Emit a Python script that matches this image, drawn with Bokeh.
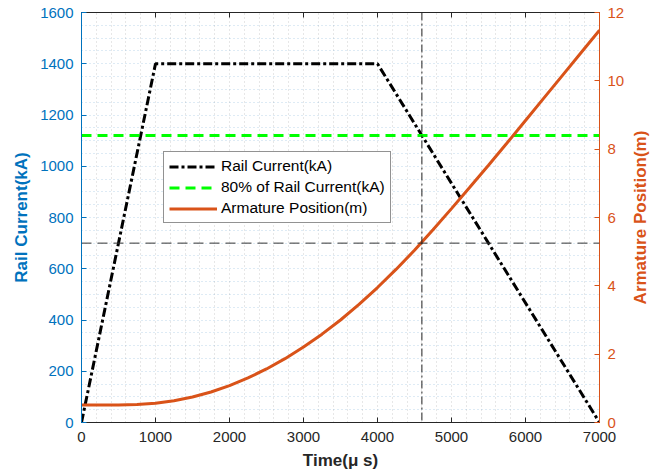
import math
from bokeh.plotting import figure
from bokeh.models import (Range1d, LinearAxis, FixedTicker, SingleIntervalTicker,
                          Legend, LegendItem, Span, CustomLabelingPolicy, Label)
from bokeh.embed import file_html
from bokeh.resources import INLINE

# ---- data ----
time_rail = [0, 1000, 4000, 7000]
rail_current = [0, 1400, 1400, 0]

green_time = [0, 7000]
green_level = [1120, 1120]

time_pos = [0, 250, 500, 750, 1000, 1250, 1500, 1750, 2000, 2250, 2500, 2750,
            3000, 3250, 3500, 3750, 4000, 4250, 4500, 4750, 5000, 5250, 5500,
            5750, 6000, 6250, 6500, 6750, 7000]
position = [0.51, 0.51, 0.515, 0.53, 0.565, 0.636, 0.746, 0.893, 1.08, 1.304,
            1.567, 1.868, 2.207, 2.585, 3.0, 3.455, 3.95, 4.48, 5.04, 5.64,
            6.26, 6.89, 7.53, 8.18, 8.84, 9.5, 10.16, 10.82, 11.48]

marker_time = 4600
marker_current = 700

x_ticks = [0, 1000, 2000, 3000, 4000, 5000, 6000, 7000]
y_ticks = [0, 200, 400, 600, 800, 1000, 1200, 1400, 1600]
pos_ticks = [0, 2, 4, 6, 8, 10, 12]

BLUE = "#0072BD"
ORANGE = "#D95319"
DARK = "#262626"
FONT = "Liberation Sans"

FW, FH = 518, 410

p = figure(frame_width=FW, frame_height=FH,
           x_range=Range1d(0, 7000), y_range=Range1d(0, 1600),
           output_backend="svg", toolbar_location=None,
           min_border_left=81, min_border_right=63,
           min_border_top=12, min_border_bottom=54,
           background_fill_color="white", border_fill_color="white")
p.extra_y_ranges = {"pos": Range1d(0, 12)}
p.outline_line_color = DARK
p.outline_line_width = 1

# grids (dotted, minor spacing)
p.xgrid.ticker = SingleIntervalTicker(interval=200)
p.ygrid.ticker = SingleIntervalTicker(interval=50)
p.xgrid.grid_line_color = "#8a8a8a"
p.xgrid.grid_line_alpha = 0.4
p.xgrid.grid_line_dash = "1 3"
p.ygrid.grid_line_color = "#5b9bd0"
p.ygrid.grid_line_alpha = 0.4
p.ygrid.grid_line_dash = "1 3"

# bottom axis
xa = p.xaxis[0]
xa.ticker = FixedTicker(ticks=x_ticks)
xa.axis_label = "Time(\u03bc s)"
xa.axis_label_text_font = FONT
xa.axis_label_text_font_style = "bold"
xa.axis_label_text_font_size = "17px"
xa.axis_label_text_color = DARK
xa.axis_label_standoff = 6
xa.major_label_text_font = FONT
xa.major_label_text_font_size = "15px"
xa.major_label_text_color = DARK
xa.major_label_standoff = 9
xa.major_tick_in = 5
xa.major_tick_out = 0
xa.minor_tick_line_color = None
xa.axis_line_color = DARK
xa.major_tick_line_color = DARK

# left axis
ya = p.yaxis[0]
ya.ticker = FixedTicker(ticks=y_ticks)
ya.axis_label = "Rail Current(kA)"
ya.axis_label_text_font = FONT
ya.axis_label_text_font_style = "bold"
ya.axis_label_text_font_size = "17px"
ya.axis_label_text_color = BLUE
ya.axis_label_standoff = 6
ya.major_label_text_font = FONT
ya.major_label_text_font_size = "15px"
ya.major_label_text_color = BLUE
ya.major_label_standoff = 8
ya.major_tick_in = 5
ya.major_tick_out = 0
ya.minor_tick_line_color = None
ya.axis_line_color = BLUE
ya.major_tick_line_color = BLUE

# top axis (ticks only, labels hidden by policy)
hide_all = CustomLabelingPolicy(code="""
const all = [...indices]
for (const i of all) indices.unset(i)
return indices
""")
top = LinearAxis(ticker=FixedTicker(ticks=x_ticks), major_label_text_font_size="1px",
                 major_label_policy=hide_all,
                 major_label_standoff=0, major_tick_in=5, major_tick_out=0,
                 minor_tick_line_color=None, axis_line_color=DARK,
                 major_tick_line_color=DARK)
p.add_layout(top, "above")

# right axis
ra = LinearAxis(y_range_name="pos", ticker=FixedTicker(ticks=pos_ticks),
                major_label_text_font=FONT, major_label_text_font_size="15px",
                major_label_text_color=ORANGE, major_label_standoff=8,
                major_tick_in=5, major_tick_out=0, minor_tick_line_color=None,
                axis_line_color=ORANGE, major_tick_line_color=ORANGE)
p.add_layout(ra, "right")

# right axis title, reading bottom-to-top, in the right side panel
p.add_layout(Label(x=13, y=FH / 2, x_units="screen", y_units="screen",
                   text="Armature Position(m)", angle=math.pi / 2,
                   text_align="center", text_baseline="middle",
                   text_font=FONT, text_font_style="bold", text_font_size="17px",
                   text_color=ORANGE), "right")

# series
r_rail = p.line(time_rail, rail_current, line_color="black", line_width=3,
                line_dash="9 3 3 3")
r_green = p.line(green_time, green_level, line_color="#00FF00", line_width=3,
                 line_dash="10 6")
r_pos = p.line(time_pos, position, line_color=ORANGE, line_width=3,
               y_range_name="pos")

# guide lines
p.add_layout(Span(location=marker_current, dimension="width", line_color="#333333",
                  line_width=1, line_dash="10 6"))
p.add_layout(Span(location=marker_time, dimension="height", line_color="#222222",
                  line_width=1, line_dash="8 3 2 3"))

legend = Legend(items=[
    LegendItem(label="Rail Current(kA)", renderers=[r_rail]),
    LegendItem(label="80% of Rail Current(kA)", renderers=[r_green]),
    LegendItem(label="Armature Position(m)", renderers=[r_pos]),
], location=(82, 199))
legend.label_text_font = FONT
legend.label_text_font_size = "15.5px"
legend.label_text_color = "black"
legend.glyph_width = 48
legend.glyph_height = 17
legend.label_height = 17
legend.spacing = 3
legend.padding = 5
legend.margin = 0
legend.label_standoff = 4
legend.border_line_color = DARK
legend.border_line_width = 1
legend.background_fill_color = "white"
legend.background_fill_alpha = 1
p.add_layout(legend, "center")

open("out.html", "w").write(file_html(p, INLINE))
